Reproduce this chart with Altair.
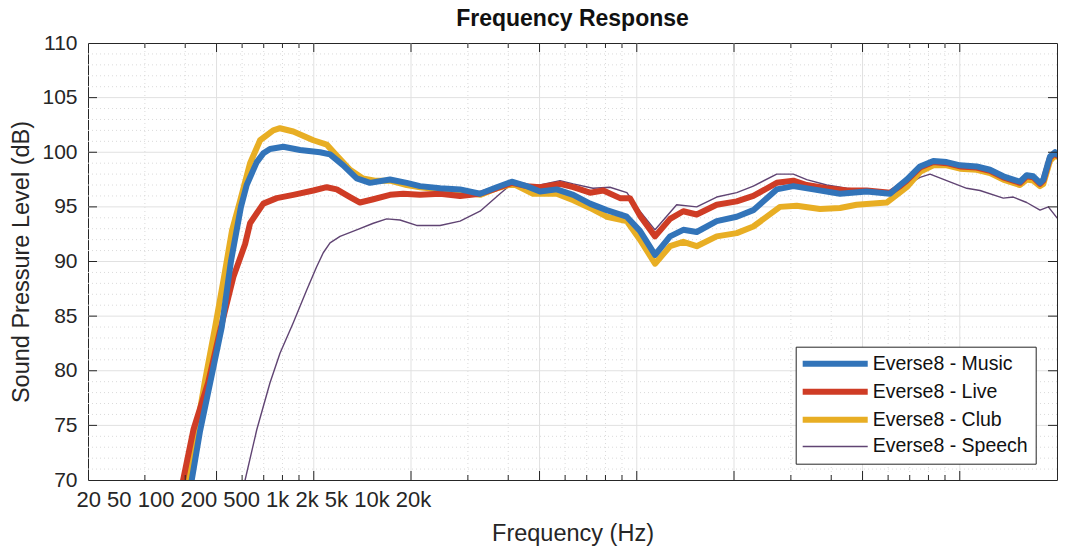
import altair as alt
import pandas as pd

FONT = "Liberation Sans"
INK = "#262626"

SERIES = ["Everse8 - Music", "Everse8 - Live", "Everse8 - Club", "Everse8 - Speech"]
COLORS = ["#3274B9", "#CF3C25", "#E8AE24", "#604473"]
LINE_WIDTHS = [6, 6, 6, 1.4]
# thin speech curve sits underneath, music on top
DRAW_ORDER = ["Everse8 - Speech", "Everse8 - Club", "Everse8 - Live", "Everse8 - Music"]

music_hz = [41.9, 44.4, 47.7, 51.9, 55.4, 59.5, 62.0, 66.6, 69.8, 73.2, 80.5, 90.7, 104.6,
            112.3, 123.4, 135.8, 149.3, 172.2, 194, 213.3, 246, 283.7, 327.2, 368.4, 410.2,
            456.4, 501.7, 565, 636, 716.6, 807, 930.8, 1023, 1139, 1268, 1393, 1533, 1768,
            2039, 2295, 2712, 3053, 3520, 4258, 5151, 6081, 6533, 6852, 7532, 8281, 9109,
            10018, 11282, 12404, 13638, 14646, 15362, 16114, 16890, 17720, 18141, 19026,
            19716, 20000]
music_db = [70.0, 74.4, 78.8, 84.0, 90.0, 95.0, 97.0, 99.1, 99.9, 100.3, 100.5, 100.2, 100.0,
            99.8, 98.8, 97.6, 97.2, 97.5, 97.2, 96.9, 96.7, 96.6, 96.2, 96.8, 97.3,
            96.9, 96.4, 96.6, 96.1, 95.3, 94.7, 94.1, 92.8, 90.6, 92.3, 92.9, 92.7, 93.7,
            94.1, 94.7, 96.6, 96.9, 96.6, 96.2, 96.4, 96.2, 97.0, 97.5, 98.7, 99.2, 99.1,
            98.8, 98.7, 98.4, 97.8, 97.5, 97.3, 97.9, 97.8, 97.2, 97.5, 99.6,
            100.0, 99.8]

live_hz = [39.4, 42.4, 47.1, 51.3, 56.4, 61.3, 63.5, 69.8, 76.8, 86.4, 99.7, 109.7, 117.8,
           129.5, 139, 152.9, 172.2, 189.3, 213.3, 246, 283.7, 327.2, 368.4, 410.2, 456.4,
           501.7, 578.5, 636, 716.6, 787.7, 887.4, 952.8, 1023, 1139, 1268, 1393, 1533,
           1768, 2039, 2295, 2712, 3053, 3359, 3873, 4466, 5151, 6081, 6533, 6852, 7532,
           8281, 9109, 10018, 11282, 12404, 13638, 14646, 15362, 16114, 16890, 17720,
           18141, 19026, 19716, 20000]
live_db = [70.0, 74.6, 78.9, 83.7, 88.6, 91.6, 93.5, 95.3, 95.8, 96.1, 96.5, 96.8, 96.6,
           95.9, 95.4, 95.7, 96.1, 96.2, 96.1, 96.2, 96.0, 96.2, 96.7, 97.2, 96.9,
           96.8, 97.1, 96.8, 96.3, 96.5, 95.8, 95.8, 94.2, 92.3, 93.9, 94.6, 94.3,
           95.2, 95.5, 96.0, 97.2, 97.4, 97.0, 96.7, 96.5, 96.5, 96.3, 96.9, 97.4, 98.6,
           99.1, 99.0, 98.7, 98.6, 98.3, 97.7, 97.4, 97.2, 97.8, 97.7, 97.1,
           97.4, 99.5, 99.9, 99.7]

club_hz = [40.8, 46.0, 49.5, 52.7, 55.8, 59.1, 63.5, 68.2, 74.9, 78.6, 86.4, 99.7, 109.7,
           117.8, 129.5, 142, 154.7, 172.2, 194, 213.3, 246, 283.7, 327.2, 368.4, 414,
           477.4, 565, 636, 716.6, 807, 930.8, 1023, 1139, 1268, 1393, 1533, 1768, 2039,
           2295, 2776, 3128, 3693, 4258, 4795, 5940, 6440, 6852, 7532, 8281, 9109, 10018,
           11282, 12404, 13638, 14646, 15362, 16114, 16890, 17720, 18141, 19026, 19716,
           20000]
club_db = [70.0, 79.0, 84.0, 88.5, 92.8, 95.5, 99.0, 101.1, 102.0, 102.2, 101.9, 101.1, 100.7,
           99.7, 98.4, 97.6, 97.4, 97.4, 97.0, 96.8, 96.6, 96.4, 96.1, 96.7, 97.1,
           96.2, 96.2, 95.6, 94.9, 94.1, 93.7, 92.0, 89.8, 91.4, 91.8, 91.4, 92.3, 92.6,
           93.2, 95.0, 95.1, 94.8, 94.9, 95.2, 95.4, 96.2, 96.8, 98.2, 98.8, 98.8, 98.5,
           98.4, 98.1, 97.5, 97.2, 97.0, 97.5, 97.4, 96.9, 97.1, 99.2, 99.7,
           99.6]

speech_hz = [61.3, 66.6, 73.2, 78.6, 86.4, 95.1, 102, 107, 112.3, 120.6, 135.8, 152.9, 168.2,
             184.9, 208.2, 246, 283.7, 327.2, 377.2, 410.2, 456.4, 501.7, 578.5, 636, 732,
             826, 932, 1023, 1139, 1329, 1533, 1768, 2039, 2295, 2712, 3053, 3359, 3873,
             4466, 5151, 6081, 6852, 7532, 8090, 9109, 10508, 11550, 13638, 14646, 16114,
             17720, 18798, 20000]
speech_db = [70.0, 74.6, 78.9, 81.6, 84.4, 87.4, 89.5, 90.8, 91.7, 92.3, 92.9, 93.5, 93.9,
             93.8, 93.3, 93.3, 93.7, 94.6, 96.2, 97.1, 96.9, 97.0, 97.4, 97.1, 96.7,
             96.8, 96.3, 94.6, 92.9, 95.2, 95.0, 95.9, 96.3, 96.9, 98.0, 98.0, 97.5, 97.0,
             96.7, 96.5, 96.3, 97.0, 97.7, 98.0, 97.4, 96.7, 96.5, 95.8, 95.9, 95.4,
             94.7, 95.0, 94.0]

XTICK_VALUES = [20, 50, 100, 200, 500, 1000, 2000, 5000, 10000, 20000]
XTICK_LABELS = ["20", "50", "100", "200", "500", "1k", "2k", "5k", "10k", "20k"]
MINOR_HZ = [30, 40, 60, 70, 80, 90, 300, 400, 600, 700, 800, 900,
            3000, 4000, 6000, 7000, 8000, 9000]
DB_TICKS = [70, 75, 80, 85, 90, 95, 100, 105, 110]
DB_MINOR = [71, 72, 73, 74, 76, 77, 78, 79, 81, 82, 83, 84, 86, 87, 88, 89, 91, 92, 93, 94,
            96, 97, 98, 99, 101, 102, 103, 104, 106, 107, 108, 109]

W, H = 969, 437

curves = pd.concat([
    pd.DataFrame({"series": SERIES[0], "hz": music_hz, "db": music_db}),
    pd.DataFrame({"series": SERIES[1], "hz": live_hz, "db": live_db}),
    pd.DataFrame({"series": SERIES[2], "hz": club_hz, "db": club_db}),
    pd.DataFrame({"series": SERIES[3], "hz": speech_hz, "db": speech_db}),
], ignore_index=True)

# all tick labels end up in one string hanging off the first tick
x_axis = alt.Axis(
    values=[XTICK_VALUES[0]],
    labelExpr="'" + " ".join(XTICK_LABELS) + "'",
    labelFlush=True, labelFlushOffset=12, labelOverlap=False, labelLimit=600,
    labelFontSize=22, labelPadding=9,
    ticks=False, tickSize=0, domain=False, grid=False,
    title="Frequency (Hz)", titleFontSize=23.5, titleFontWeight="normal", titlePadding=11,
)
y_axis = alt.Axis(
    values=DB_TICKS, labelFontSize=21, labelPadding=11, labelFlush=False, labelOverlap=False,
    ticks=False, tickSize=0, domain=False, grid=False,
    title="Sound Pressure Level (dB)", titleFontSize=23.5, titleFontWeight="normal",
    titlePadding=8,
)

x_enc = alt.X("hz:Q", scale=alt.Scale(type="log", domain=[20, 20000], nice=False), axis=x_axis)
y_enc = alt.Y("db:Q", scale=alt.Scale(domain=[70, 110], nice=False, zero=False), axis=y_axis)

legend = alt.Legend(
    title=None, orient="none", legendX=707.7, legendY=303.7,
    fillColor="white", strokeColor=INK, padding=7, cornerRadius=0,
    labelFont=FONT, labelFontSize=19.5, labelColor="#111111",
    symbolType="M-1.43,0H7.86", symbolSize=196, labelOffset=50, rowPadding=4,
)
color_enc = alt.Color("series:N", scale=alt.Scale(domain=SERIES, range=COLORS), legend=legend)
width_enc = alt.StrokeWidth("series:N",
                            scale=alt.Scale(type="ordinal", domain=SERIES, range=LINE_WIDTHS),
                            legend=legend)

hz_minor = pd.DataFrame({"hz": MINOR_HZ})
hz_major = pd.DataFrame({"hz": XTICK_VALUES[1:-1]})
db_minor = pd.DataFrame({"db": DB_MINOR})
db_major = pd.DataFrame({"db": DB_TICKS[1:-1]})

minor_style = dict(color="#dadada", strokeDash=[1, 3], strokeWidth=1)
major_style = dict(color="#e1e1e1", strokeWidth=1)

layers = [
    alt.Chart(hz_minor).mark_rule(**minor_style).encode(x=x_enc),
    alt.Chart(db_minor).mark_rule(**minor_style).encode(y=y_enc),
    alt.Chart(hz_major).mark_rule(**major_style).encode(x=x_enc),
    alt.Chart(db_major).mark_rule(**major_style).encode(y=y_enc),
]

for name in DRAW_ORDER:
    layers.append(
        alt.Chart(curves).transform_filter(alt.datum.series == name)
        .mark_line(clip=True, strokeJoin="round", strokeCap="round")
        .encode(x=x_enc, y=y_enc, color=color_enc, strokeWidth=width_enc)
    )

tick_style = dict(color=INK, strokeWidth=1)
# inward tick marks on all four sides
layers += [
    alt.Chart(hz_major).mark_rule(**tick_style).encode(x=x_enc, y=alt.value(H), y2=alt.value(H - 9)),
    alt.Chart(hz_major).mark_rule(**tick_style).encode(x=x_enc, y=alt.value(0), y2=alt.value(9)),
    alt.Chart(hz_minor).mark_rule(**tick_style).encode(x=x_enc, y=alt.value(H), y2=alt.value(H - 5)),
    alt.Chart(hz_minor).mark_rule(**tick_style).encode(x=x_enc, y=alt.value(0), y2=alt.value(5)),
    alt.Chart(db_major).mark_rule(**tick_style).encode(y=y_enc, x=alt.value(0), x2=alt.value(9)),
    alt.Chart(db_major).mark_rule(**tick_style).encode(y=y_enc, x=alt.value(W), x2=alt.value(W - 9)),
]

chart = (
    alt.layer(*layers)
    .properties(
        width=W, height=H,
        title=alt.TitleParams("Frequency Response", font=FONT, fontSize=23, fontWeight="bold",
                              color="#111111", anchor="middle", frame="group", offset=1),
        autosize=alt.AutoSizeParams(type="none"),
        padding={"left": 88, "top": 43, "right": 8, "bottom": 70},
        background="white",
    )
    .configure_view(stroke=INK, strokeWidth=1)
    .configure_axis(labelFont=FONT, titleFont=FONT, labelColor=INK, titleColor=INK)
)

chart.save("out.html", embed_options={"renderer": "svg", "actions": False})
